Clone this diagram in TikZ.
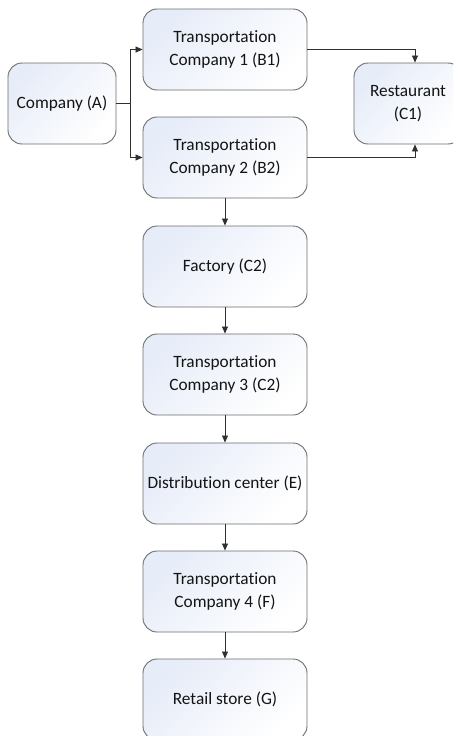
\documentclass[tikz,border=0pt]{standalone}
\usepackage{fontspec}
\setmainfont{Carlito}[Ligatures=NoCommon]
\usetikzlibrary{arrows.meta,positioning}
\definecolor{boxedge}{HTML}{6E6E6E}
\definecolor{boxtint}{HTML}{E6ECF8}
\definecolor{linkcol}{HTML}{303030}
\definecolor{textcol}{HTML}{141414}
\tikzset{
  stagebox/.style={draw=boxedge, line width=0.9pt, rounded corners=14pt,
    top color=boxtint, bottom color=white, shading angle=45,
    minimum width=164pt, minimum height=81pt, align=center,
    text=textcol, font=\fontsize{17.3}{23}\selectfont, inner sep=2pt},
  smallbox/.style={stagebox, minimum width=108pt},
  link/.style={draw=linkcol, line width=0.8pt,
    -{Triangle[length=7pt,width=6pt]}},
}
\begin{document}
\begin{tikzpicture}[x=1pt,y=-1pt]
  \clip (0,0) rectangle (453,736);
  \fill[white] (0,0) rectangle (453,736);

  % source company and the two carriers
  \node[smallbox] (A)  at (62,103.5)  {Company (A)};
  \node[stagebox] (B1) at (225,49.5)  {Transportation\\Company 1 (B1)};
  \node[stagebox] (B2) at (225,157.5) {Transportation\\Company 2 (B2)};
  \node[smallbox] (C1) at (408,103.5) {Restaurant\\(C1)};

  % main chain down the middle
  \node[stagebox] (C2) at (225,266.5) {Factory (C2)};
  \node[stagebox] (T3) at (225,374.5) {Transportation\\Company 3 (C2)};
  \node[stagebox] (E)  at (225,483.5) {Distribution center (E)};
  \node[stagebox] (F)  at (225,591.5) {Transportation\\Company 4 (F)};
  \node[stagebox] (G)  at (225,699.5) {Retail store (G)};

  % branching from the company
  \coordinate (split) at (130,103.5);
  \draw[draw=linkcol, line width=0.8pt] (A.east) -- (split);
  \draw[link] (split) |- (B1.west);
  \draw[link] (split) |- (B2.west);

  % carriers to the restaurant
  \draw[link] (B1.east) -| ([xshift=7pt]C1.north);
  \draw[link] (B2.east) -| ([xshift=7pt]C1.south);

  % vertical chain
  \draw[link] (B2) -- (C2);
  \draw[link] (C2) -- (T3);
  \draw[link] (T3) -- (E);
  \draw[link] (E)  -- (F);
  \draw[link] (F)  -- (G);
\end{tikzpicture}
\end{document}
